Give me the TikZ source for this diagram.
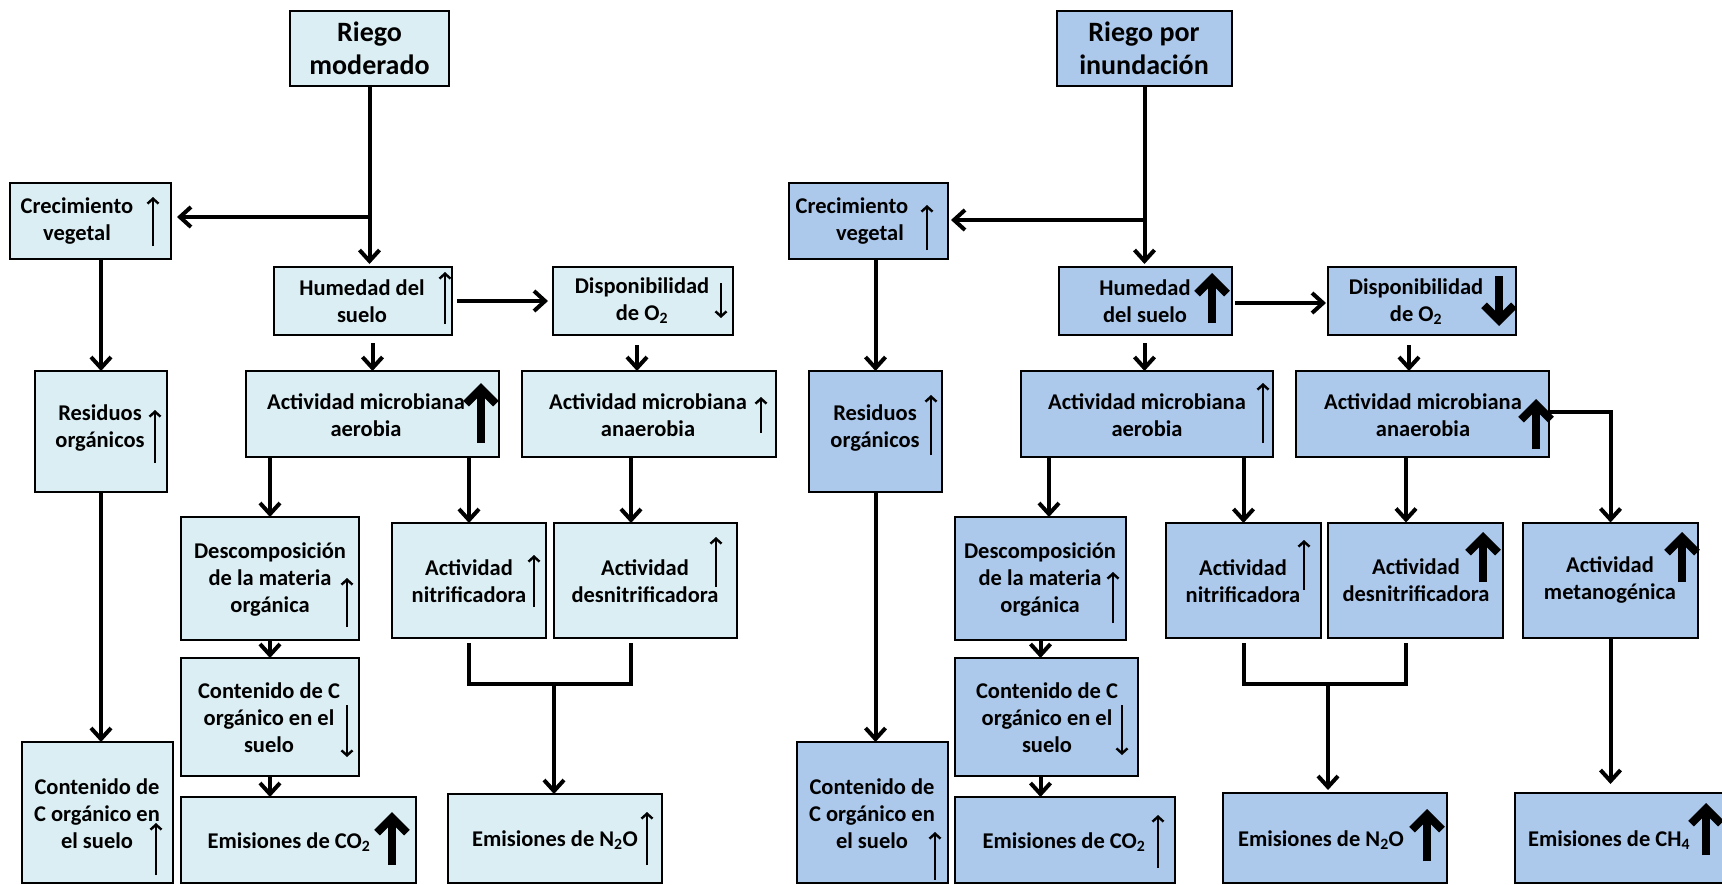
\documentclass[tikz,border=0pt]{standalone}
\usepackage{fontspec}
\setmainfont{Carlito}
\usetikzlibrary{arrows.meta,calc}
\definecolor{lb}{HTML}{DBEEF4}
\definecolor{rb}{HTML}{ACC8EA}
\tikzset{
 box/.style={draw=black, line width=2pt, inner sep=0pt, outer sep=0pt},
 lbox/.style={box, fill=lb},
 rbox/.style={box, fill=rb},
 txt/.style={align=center, font=\fontsize{22.5}{27}\selectfont\bfseries, inner sep=0pt},
 ttl/.style={align=center, font=\fontsize{28}{33}\selectfont\bfseries, inner sep=0pt},
 conn/.style={line width=4pt, -{Straight Barb[length=11pt,width=20pt]}},
 link/.style={line width=4pt},
 thinar/.style={line width=2.4pt, -{Straight Barb[length=5pt,width=11pt]}},
 thickar/.style={line width=8pt, -{Straight Barb[length=15pt,width=30pt]}},
}
\begin{document}
\begin{tikzpicture}[x=1pt,y=-1pt]
\fill[white] (0,0) rectangle (1722,884);
\useasboundingbox (0,0) rectangle (1722,884);

% ================= LEFT =================
\node[lbox, minimum width=159pt, minimum height=75pt] (Lriego) at (369.5,48.5) {};
\node[lbox, minimum width=161pt, minimum height=76pt] (Lcrec) at (90.5,221) {};
\node[lbox, minimum width=178pt, minimum height=68pt] (Lhum) at (363,301) {};
\node[lbox, minimum width=180pt, minimum height=68pt] (Ldisp) at (643,301) {};
\node[lbox, minimum width=132pt, minimum height=121pt] (Lres) at (101,431.5) {};
\node[lbox, minimum width=253pt, minimum height=86pt] (Laer) at (372.5,414) {};
\node[lbox, minimum width=254pt, minimum height=86pt] (Lana) at (649,414) {};
\node[lbox, minimum width=178pt, minimum height=123pt] (Ldesc) at (270,578.5) {};
\node[lbox, minimum width=154pt, minimum height=115pt] (Lnit) at (469,580.5) {};
\node[lbox, minimum width=183pt, minimum height=115pt] (Lden) at (645.5,580.5) {};
\node[lbox, minimum width=178pt, minimum height=118pt] (Lcmid) at (270,717) {};
\node[lbox, minimum width=151pt, minimum height=141pt] (Lcleft) at (97.5,812.5) {};
\node[lbox, minimum width=235pt, minimum height=86pt] (Lco2) at (298.5,840) {};
\node[lbox, minimum width=214pt, minimum height=89pt] (Ln2o) at (555,838.5) {};

\node[ttl] (tLriego) at (369.5,48) {Riego\\moderado};
\node[txt] (tLcrec) at (77,221) {Crecimiento\\vegetal};
\node[txt] (tLhum) at (362,301) {Humedad del\\suelo};
\node[txt] (tLdisp) at (642,301) {Disponibilidad\\de O\textsubscript{2}};
\node[txt] (tLres) at (100,428) {Residuos\\orgánicos};
\node[txt] (tLaer) at (366,415) {Actividad microbiana\\aerobia};
\node[txt] (tLana) at (648,415) {Actividad microbiana\\anaerobia};
\node[txt] (tLdesc) at (270,580) {Descomposición\\de la materia\\orgánica};
\node[txt] (tLnit) at (469,581) {Actividad\\nitrificadora};
\node[txt] (tLden) at (645,581) {Actividad\\desnitrificadora};
\node[txt] (tLcmid) at (269,718) {Contenido de C\\orgánico en el\\suelo};
\node[txt] (tLcleft) at (97,814) {Contenido de\\C orgánico en\\el suelo};
\node[txt] (tLco2) at (289,842) {Emisiones de CO\textsubscript{2}};
\node[txt] (tLn2o) at (555,840) {Emisiones de N\textsubscript{2}O};

% connectors left
\coordinate (Lbr) at ($(Lriego.south |- Lcrec.east)+(0,-4)$);
\coordinate (xLdisp) at (637,0);
\coordinate (xLden) at (631,643);
\coordinate (Lmj) at (554,684);
\draw[conn, shorten >=3pt] (Lriego.south) -- (Lriego.south |- Lhum.north);
\draw[conn, shorten >=6pt] (Lbr) -- (Lbr -| Lcrec.east);
\draw[conn, shorten <=5pt, shorten >=5pt] (Lhum.east) -- (Ldisp.west);
\draw[conn, shorten <=8pt] (Laer.north |- Lhum.south) -- (Laer.north);
\draw[conn, shorten <=10pt] (Ldisp.south -| xLdisp) -- (Lana.north -| xLdisp);
\draw[conn] (Lres.north |- Lcrec.south) -- (Lres.north);
\draw[conn] (Lres.south) -- (Lres.south |- Lcleft.north);
\draw[conn] (Ldesc.north |- Laer.south) -- (Ldesc.north);
\draw[conn] (Lnit.north |- Laer.south) -- (Lnit.north);
\draw[conn] (Lana.south -| xLden) -- (Lden.north -| xLden);
\draw[conn] (Ldesc.south) -- (Lcmid.north);
\draw[conn] (Lcmid.south) -- (Lcmid.south |- Lco2.north);
\draw[link] ([yshift=-5pt]Lnit.south) |- (Lmj);
\draw[link] (xLden) |- (Lmj);
\draw[conn] (Lmj) -- (Lmj |- Ln2o.north);

% indicator arrows left
\draw[thinar] (153,246) -- (153,197);
\draw[thinar] (445,324) -- (445,272);
\draw[thinar] (721,283) -- (721,318);
\draw[thickar] (481,443) -- (481,383);
\draw[thinar] (761,433) -- (761,397);
\draw[thinar] (155,463) -- (155,410);
\draw[thinar] (347,627) -- (347,578);
\draw[thinar] (534,607) -- (534,555);
\draw[thinar] (716,587) -- (716,537);
\draw[thinar] (347,705) -- (347,757);
\draw[thinar] (156,875) -- (156,823);
\draw[thickar] (392,865) -- (392,812);
\draw[thinar] (647,865) -- (647,812);

% ================= RIGHT =================
\node[rbox, minimum width=175pt, minimum height=75pt] (Rriego) at (1144.5,48.5) {};
\node[rbox, minimum width=159pt, minimum height=76pt] (Rcrec) at (868.5,221) {};
\node[rbox, minimum width=173pt, minimum height=68pt] (Rhum) at (1145.5,301) {};
\node[rbox, minimum width=188pt, minimum height=68pt] (Rdisp) at (1422,301) {};
\node[rbox, minimum width=133pt, minimum height=121pt] (Rres) at (875.5,431.5) {};
\node[rbox, minimum width=252pt, minimum height=86pt] (Raer) at (1147,414) {};
\node[rbox, minimum width=253pt, minimum height=86pt] (Rana) at (1422.5,414) {};
\node[rbox, minimum width=171pt, minimum height=123pt] (Rdesc) at (1040.5,578.5) {};
\node[rbox, minimum width=155pt, minimum height=115pt] (Rnit) at (1243.5,580.5) {};
\node[rbox, minimum width=175pt, minimum height=115pt] (Rden) at (1415.5,580) {};
\node[rbox, minimum width=175pt, minimum height=115pt] (Rmet) at (1610.5,580) {};
\node[rbox, minimum width=183pt, minimum height=118pt] (Rcmid) at (1046.5,717) {};
\node[rbox, minimum width=151pt, minimum height=141pt] (Rcleft) at (872.5,812.5) {};
\node[rbox, minimum width=220pt, minimum height=86pt] (Rco2) at (1065,840) {};
\node[rbox, minimum width=224pt, minimum height=90pt] (Rn2o) at (1335,838) {};
\node[rbox, minimum width=215pt, minimum height=90pt] (Rch4) at (1622.5,838) {};

\node[ttl] (tRriego) at (1144,48) {Riego por\\inundación};
\node[txt] (tRcrec) at (852,221) {Crecimiento\\\hspace*{36pt}vegetal};
\node[txt] (tRhum) at (1145,301) {Humedad\\del suelo};
\node[txt] (tRdisp) at (1416,302) {Disponibilidad\\de O\textsubscript{2}};
\node[txt] (tRres) at (875,428) {Residuos\\orgánicos};
\node[txt] (tRaer) at (1147,415) {Actividad microbiana\\aerobia};
\node[txt] (tRana) at (1423,415) {Actividad microbiana\\anaerobia};
\node[txt] (tRdesc) at (1040,580) {Descomposición\\de la materia\\orgánica};
\node[txt] (tRnit) at (1243,581) {Actividad\\nitrificadora};
\node[txt] (tRden) at (1416,580) {Actividad\\desnitrificadora};
\node[txt] (tRmet) at (1610,580) {Actividad\\metanogénica};
\node[txt] (tRcmid) at (1047,718) {Contenido de C\\orgánico en el\\suelo};
\node[txt] (tRcleft) at (872,814) {Contenido de\\C orgánico en\\el suelo};
\node[txt] (tRco2) at (1064,842) {Emisiones de CO\textsubscript{2}};
\node[txt] (tRn2o) at (1321,840) {Emisiones de N\textsubscript{2}O};
\node[txt] (tRch4) at (1609,840) {Emisiones de CH\textsubscript{4}};

% connectors right
\coordinate (Rbr) at ($(Rriego.south |- Rcrec.east)+(0,-1)$);
\coordinate (xRdisp) at (1409,0);
\coordinate (xRdesc) at (1049,0);
\coordinate (xRden) at (1406,643);
\coordinate (Rmj) at (1328,684);
\draw[conn, shorten >=3pt] (Rriego.south) -- (Rriego.south |- Rhum.north);
\draw[conn, shorten >=3pt] (Rbr) -- (Rbr -| Rcrec.east);
\draw[conn, shorten <=3pt, shorten >=2pt] ([yshift=-2pt]Rhum.east) -- ([yshift=-2pt]Rdisp.west);
\draw[conn, shorten <=8pt] (Rriego.south |- Rhum.south) -- (Rriego.south |- Raer.north);
\draw[conn, shorten <=10pt] (Rdisp.south -| xRdisp) -- (Rana.north -| xRdisp);
\draw[conn] (Rres.north |- Rcrec.south) -- (Rres.north);
\draw[conn] (Rres.south) -- (Rres.south |- Rcleft.north);
\draw[conn] (Raer.south -| xRdesc) -- (Rdesc.north -| xRdesc);
\draw[conn] (Rnit.north |- Raer.south) -- (Rnit.north);
\draw[conn] (Rana.south -| xRden) -- (Rden.north -| xRden);
\draw[conn] ([yshift=2pt]Rana.east) -| (Rmet.north);
\draw[conn] (Rdesc.south) -- (Rdesc.south |- Rcmid.north);
\draw[conn] (Rdesc.south |- Rcmid.south) -- (Rdesc.south |- Rco2.north);
\draw[link] ([yshift=-5pt]Rnit.south) |- (Rmj);
\draw[link] (xRden) |- (Rmj);
\draw[conn, shorten >=3pt] (Rmj) -- (Rmj |- Rn2o.north);
\draw[conn, shorten >=9pt] (Rmet.south) -- (Rmet.south |- Rch4.north);

% indicator arrows right
\draw[thinar] (927,250) -- (927,205);
\draw[thickar] (1212,323) -- (1212,273);
\draw[thickar] (1499,276) -- (1499,326);
\draw[thinar] (1263,443) -- (1263,383);
\draw[thickar] (1536,449) -- (1536,399);
\draw[thinar] (931,455) -- (931,395);
\draw[thinar] (1113,623) -- (1113,572);
\draw[thinar] (1304,590) -- (1304,540);
\draw[thickar] (1483,582) -- (1483,532);
\draw[thickar] (1682,582) -- (1682,532);
\draw[thinar] (1122,705) -- (1122,755);
\draw[thinar] (935,880) -- (935,832);
\draw[thinar] (1158,868) -- (1158,815);
\draw[thickar] (1427,861) -- (1427,809);
\draw[thickar] (1706,855) -- (1706,803);
\end{tikzpicture}
\end{document}
